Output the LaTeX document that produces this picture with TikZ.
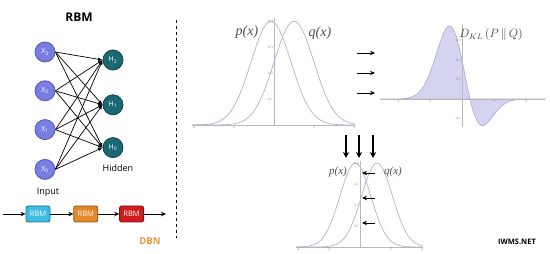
\documentclass[tikz,border=0pt]{standalone}
\usepackage{fontspec}
\setmainfont{Liberation Serif}
\setsansfont{Open Sans}
\usetikzlibrary{arrows.meta, positioning}

\definecolor{inputblue}{RGB}{122,126,226}
\definecolor{inputedge}{RGB}{84,88,178}
\definecolor{hiddenteal}{RGB}{26,104,114}
\definecolor{hiddenedge}{RGB}{14,68,76}
\definecolor{rbmcyan}{RGB}{62,188,226}
\definecolor{rbmorange}{RGB}{228,136,42}
\definecolor{rbmred}{RGB}{208,28,28}
\definecolor{dbnorange}{RGB}{232,150,62}
\definecolor{curvegray}{RGB}{188,172,206}
\definecolor{klfill}{RGB}{212,212,240}

\begin{document}
\begin{tikzpicture}[
    x=1pt, y=-1pt,
    font=\sffamily,
    unit/.style={circle, draw, thick, minimum size=20pt, inner sep=0pt, text=white, font=\sffamily\fontsize{7}{7}\selectfont},
    visible/.style={unit, fill=inputblue, draw=inputedge},
    hidden/.style={unit, fill=hiddenteal, draw=hiddenedge},
    rbmbox/.style={rectangle, rounded corners=2pt, draw, thick, minimum width=24pt, minimum height=16pt, inner sep=0pt, text=white, font=\sffamily\fontsize{7.5}{8}\selectfont},
    weight/.style={-{Latex[length=4.5pt, width=3.5pt]}, line width=0.7pt},
    arrow/.style={-{Stealth[length=5pt, width=4.5pt]}, line width=0.9pt},
    bigarrow/.style={-{Stealth[length=6pt, width=6pt]}, line width=1.3pt},
    curve/.style={draw=curvegray, line width=0.7pt},
    axis/.style={draw=gray!55, line width=0.5pt},
    tick/.style={text=gray, font=\rmfamily\fontsize{3.5}{4}\selectfont, inner sep=1pt},
    dist/.style={font=\rmfamily\itshape\fontsize{14}{15}\selectfont, text=black!70}
]
\useasboundingbox (0,0) rectangle (550,254);

% RBM title
\node (rbmtitle) [font=\sffamily\bfseries\fontsize{12}{13}\selectfont] at (79,17) {RBM};

% Input layer
\node (x3) [visible] at (45,52) {X\textsubscript{3}};
\node (x2) [visible, below=18pt of x3] {X\textsubscript{2}};
\node (x1) [visible, below=18pt of x2] {X\textsubscript{1}};
\node (x0) [visible, below=19pt of x1] {X\textsubscript{0}};

% Hidden layer
\node (h2) [hidden] at (113,60) {H\textsubscript{2}};
\node (h1) [hidden, below=24pt of h2] {H\textsubscript{1}};
\node (h0) [hidden, below=22pt of h1] {H\textsubscript{0}};

\node (input) [font=\sffamily\fontsize{9}{10}\selectfont] at (48,192) {Input};
\node (hiddenlbl) [font=\sffamily\fontsize{9}{10}\selectfont] at (118,168) {Hidden};

% Weights
\foreach \i in {3,2,1,0}
  \foreach \j in {2,1,0}
    \draw [weight] (x\i.east) -- (h\j.west);

% DBN chain
\coordinate (dbnin) at (3,214);
\node (rbma) [rbmbox, fill=rbmcyan, draw=rbmcyan!60!black] at (38,214) {RBM};
\node (rbmb) [rbmbox, fill=rbmorange, draw=rbmorange!60!black, right=23pt of rbma] {RBM};
\node (rbmc) [rbmbox, fill=rbmred, draw=rbmred!60!black, right=21pt of rbmb] {RBM};
\coordinate (dbnout) at (166,214);
\draw [arrow] (dbnin) -- (rbma);
\draw [arrow] (rbma) -- (rbmb);
\draw [arrow] (rbmb) -- (rbmc);
\draw [arrow] (rbmc) -- (dbnout);
\node (dbn) [text=dbnorange, font=\sffamily\bfseries\fontsize{9.5}{10}\selectfont] at (150,241) {DBN};

% Divider
\draw [dashed, thick] (176,20) -- (176,238);

% p(x) and q(x)
\begin{scope}[shift={(274,125)}, x=20pt, y=260pt]
  \draw [axis] (-4.1,0) -- (4.05,0);
  \draw [axis] (0,0) -- (0,0.41);
  \draw [curve] plot [domain=-4.1:4.05, samples=90, smooth] (\x, {0.3989*exp(-0.5*(\x+0.15)*(\x+0.15))});
  \draw [curve] plot [domain=-4.1:4.05, samples=90, smooth] (\x, {0.3989*exp(-0.5*(\x-1)*(\x-1))});
  \foreach \t in {-4,-2,2,4}
    \node [tick, below] at (\t,0) {\t};
  \foreach \t in {0.1,0.2,0.3,0.4}
    \node [tick, left] at (0,\t) {\t};
\end{scope}
\node (plbl) [dist] at (247,32) {p(x)};
\node (qlbl) [dist] at (320,33) {q(x)};

% Arrows towards the divergence
\foreach \y [count=\k] in {53,73,93} {
  \coordinate (ra\k) at (357,\y);
  \coordinate (rb\k) at (375,\y);
  \draw [arrow] (ra\k) -- (rb\k);
}

% KL divergence
\begin{scope}[shift={(462,99)}, x=16pt, y=194pt]
  \filldraw [fill=klfill, draw=curvegray, line width=0.7pt] (-5.1,0) -- plot [domain=-5.1:5.2, samples=110, smooth] (\x, {0.3989*exp(-0.5*\x*\x)*(0.5-\x)}) -- (5.2,0) -- cycle;
  \draw [axis] (-5.1,0) -- (5.2,0);
  \draw [axis] (0,-0.145) -- (0,0.38);
  \foreach \t in {-4,-2,2,4}
    \node [tick, below] at (\t,0) {\t};
  \foreach \t in {0.1,0.2,0.3,-0.1}
    \node [tick, left] at (0,\t) {\t};
\end{scope}
\node (kl) [font=\fontsize{12}{13}\selectfont, text=black!75] at (491,35) {$D_{KL}\left(P\,\|\,Q\right)$};

% Arrows down
\foreach \x [count=\k] in {346,359,373} {
  \coordinate (da\k) at (\x,135);
  \coordinate (db\k) at (\x,158);
  \draw [bigarrow] (da\k) -- (db\k);
}

% Shifted p(x) and q(x)
\begin{scope}[shift={(360,247)}, x=15.5pt, y=210pt]
  \draw [axis] (-4.1,0) -- (4.05,0);
  \draw [axis] (0,0) -- (0,0.41);
  \draw [curve] plot [domain=-4.1:4.05, samples=90, smooth] (\x, {0.3989*exp(-0.5*(\x+0.3)*(\x+0.3))});
  \draw [curve] plot [domain=-4.1:4.05, samples=90, smooth] (\x, {0.3989*exp(-0.5*(\x-1.1)*(\x-1.1))});
  \foreach \t in {-4,-2,2,4}
    \node [tick, below] at (\t,0) {\t};
  \foreach \t in {0.1,0.2,0.3,0.4}
    \node [tick, left] at (0,\t) {\t};
\end{scope}
\node (plbl2) [dist, font=\rmfamily\itshape\fontsize{11}{12}\selectfont] at (338,172) {p(x)};
\node (qlbl2) [dist, font=\rmfamily\itshape\fontsize{11}{12}\selectfont] at (393,172) {q(x)};

% Arrows towards the axis
\foreach \y [count=\k] in {173,198,223} {
  \coordinate (la\k) at (375,\y);
  \coordinate (lb\k) at (362,\y);
  \draw [arrow] (la\k) -- (lb\k);
}

% Watermark
\node (wm) [font=\sffamily\bfseries\fontsize{7.5}{8}\selectfont] at (517,242) {IWMS.NET};

\end{tikzpicture}
\end{document}
